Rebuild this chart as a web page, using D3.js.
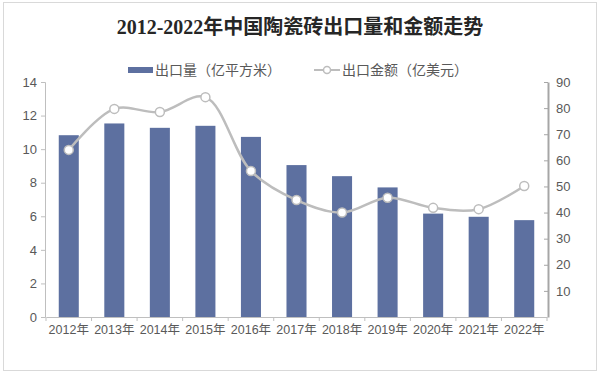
<!DOCTYPE html>
<html>
<head>
<meta charset="utf-8">
<script src="https://cdn.jsdelivr.net/npm/d3@7"></script>
<style>
  body { margin: 0; background: #fff; }
  svg { display: block; }
  text { font-family: "Liberation Sans", Arial, "Noto Sans CJK SC", sans-serif; }
</style>
</head>
<body>
<svg id="chart" width="600" height="375"></svg>
<script>
// 数据
const years = ["2012年", "2013年", "2014年", "2015年", "2016年", "2017年", "2018年", "2019年", "2020年", "2021年", "2022年"];
const volume = [10.83, 11.53, 11.27, 11.39, 10.73, 9.05, 8.39, 7.72, 6.16, 5.97, 5.77]; // 出口量（亿平方米）
const amount = [64.0, 79.7, 78.5, 84.2, 55.9, 44.8, 40.0, 45.7, 41.8, 41.3, 50.2]; // 出口金额（亿美元）
const leftTicks = [0, 2, 4, 6, 8, 10, 12, 14];
const rightTicks = [10, 20, 30, 40, 50, 60, 70, 80, 90];

const svg = d3.select('#chart');

const barColor = "#5d70a0";
const lineColor = "#bdbdbd";
const labelColor = "#595959";

// 外框
svg.append("rect").attr("x", 3.5).attr("y", 2.5).attr("width", 593).attr("height", 368)
    .attr("fill", "none").attr("stroke", "#d9d9d9");

// 标题
svg.append("text").text("2012-2022年中国陶瓷砖出口量和金额走势")
    .attr("x", 300).attr("y", 34).attr("text-anchor", "middle")
    .attr("font-size", 20).attr("font-weight", "bold").attr("fill", "#262626")
    .style("font-family", "'Liberation Serif', 'Noto Sans CJK SC', serif");

// 图例
const legend = svg.append("g");
legend.append("rect").attr("x", 128).attr("y", 67).attr("width", 25).attr("height", 6).attr("fill", barColor);
legend.append("text").text("出口量（亿平方米）").attr("x", 155).attr("y", 75)
    .attr("font-size", 14).attr("fill", labelColor);
legend.append("line").attr("x1", 314).attr("x2", 340).attr("y1", 70).attr("y2", 70)
    .attr("stroke", lineColor).attr("stroke-width", 2);
legend.append("circle").attr("cx", 327).attr("cy", 70).attr("r", 3.5)
    .attr("fill", "#fff").attr("stroke", lineColor).attr("stroke-width", 1.5);
legend.append("text").text("出口金额（亿美元）").attr("x", 342).attr("y", 75)
    .attr("font-size", 14).attr("fill", labelColor);

// 比例尺
const plotTop = 82, plotBottom = 317, plotLeft = 46, plotRight = 547;
const x = d3.scaleBand().domain(years).range([plotLeft, plotRight]).paddingInner(0.56).paddingOuter(0.28);
const yL = d3.scaleLinear().domain([0, 14]).range([plotBottom, plotTop]);
const yR = d3.scaleLinear().domain([0, 90]).range([plotBottom, plotTop]);

// 柱子
svg.append("g").selectAll("rect").data(volume).join("rect")
    .attr("x", (d, i) => x(years[i]))
    .attr("y", d => yL(d))
    .attr("width", x.bandwidth())
    .attr("height", d => plotBottom - yL(d))
    .attr("fill", barColor);

// 左轴
const leftAxis = svg.append("g").attr("transform", `translate(${plotLeft - 1},0)`)
    .call(d3.axisLeft(yL).tickValues(leftTicks).tickSize(4).tickPadding(4));
leftAxis.select(".domain").attr("stroke", "#bfbfbf");
leftAxis.selectAll(".tick line").attr("stroke", "#bfbfbf");
leftAxis.selectAll("text").attr("font-size", 13).attr("fill", labelColor);

// 右轴
const rightAxis = svg.append("g").attr("transform", `translate(${plotRight + 1},0)`)
    .call(d3.axisRight(yR).tickValues(rightTicks).tickSize(0).tickPadding(8));
rightAxis.select(".domain").attr("stroke", "#a6a6a6").attr("stroke-width", 2);
rightAxis.selectAll(".tick line").remove();
rightAxis.selectAll(".tick").append("line").attr("x1", -4).attr("x2", 0).attr("stroke", "#a6a6a6");
rightAxis.selectAll("text").attr("font-size", 13).attr("fill", labelColor);

// 底轴
const step = x.step();
const bottomAxis = svg.append("g").attr("transform", `translate(0,${plotBottom})`)
    .call(d3.axisBottom(x).tickSize(0).tickPadding(8));
bottomAxis.select(".domain").attr("stroke", "#bfbfbf");
bottomAxis.selectAll("text").attr("font-size", 12.5).attr("fill", labelColor);
// 类别之间的刻度线
bottomAxis.selectAll(".sep").data(d3.range(years.length + 1)).join("line")
    .attr("x1", i => plotLeft + i * step).attr("x2", i => plotLeft + i * step)
    .attr("y1", 0).attr("y2", 4).attr("stroke", "#bfbfbf");

// 折线
const cx = (d, i) => x(years[i]) + x.bandwidth() / 2;
const line = d3.line().x(cx).y(d => yR(d)).curve(d3.curveCatmullRom.alpha(0.5));
svg.append("path").datum(amount).attr("d", line)
    .attr("fill", "none").attr("stroke", lineColor).attr("stroke-width", 2.5);
svg.append("g").selectAll("circle").data(amount).join("circle")
    .attr("cx", cx).attr("cy", d => yR(d)).attr("r", 4.5)
    .attr("fill", "#fff").attr("stroke", lineColor).attr("stroke-width", 1.5);
</script>
</body>
</html>
